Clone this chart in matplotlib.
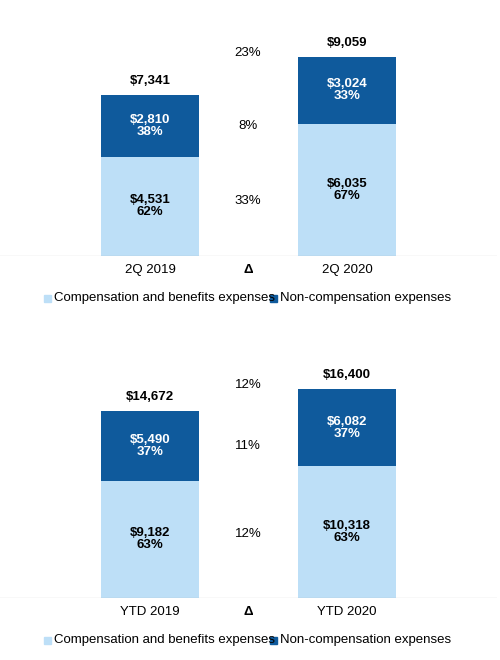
import matplotlib.pyplot as plt
from matplotlib.patches import Rectangle

plt.rcParams['font.family'] = ['Liberation Sans', 'DejaVu Sans']

LIGHT = '#BDDFF7'
DARK = '#0F5A9C'

panels = [
    {'labels': ['2Q 2019', '2Q 2020'],
     'comp': [4531, 6035], 'noncomp': [2810, 3024],
     'comp_pct': ['62%', '67%'], 'noncomp_pct': ['38%', '33%'],
     'deltas': ['33%', '8%', '23%'],
     'base_px': 256, 'px_per_unit': 161 / 7341},
    {'labels': ['YTD 2019', 'YTD 2020'],
     'comp': [9182, 10318], 'noncomp': [5490, 6082],
     'comp_pct': ['63%', '63%'], 'noncomp_pct': ['37%', '37%'],
     'deltas': ['12%', '11%', '12%'],
     'base_px': 598, 'px_per_unit': 187 / 14672},
]

W, H = 500, 660
fig = plt.figure(figsize=(W / 100, H / 100), dpi=100)

for p in panels:
    top_px = p['base_px'] - 230
    ax = fig.add_axes([0, (H - p['base_px']) / H, 497 / W, 230 / H])
    ymax = 230 / p['px_per_unit']
    ax.set_xlim(0, 497)
    ax.set_ylim(0, ymax)
    ax.axis('off')
    ax.axhline(0, color='#888888', lw=0.8)
    xs = [150, 347]
    ax.bar(xs, p['comp'], width=98, color=LIGHT)
    ax.bar(xs, p['noncomp'], width=98, bottom=p['comp'], color=DARK)
    for i, x in enumerate(xs):
        c, n = p['comp'][i], p['noncomp'][i]
        ax.text(x, c / 2, f"${c:,}\n{p['comp_pct'][i]}", ha='center', va='center',
                fontsize=9.5, fontweight='bold', color='black', linespacing=1.0)
        ax.text(x, c + n / 2, f"${n:,}\n{p['noncomp_pct'][i]}", ha='center', va='center',
                fontsize=9.5, fontweight='bold', color='white', linespacing=1.0)
        ax.text(x, c + n + 8 / p['px_per_unit'], f"${c + n:,}", ha='center', va='bottom',
                fontsize=9.5, fontweight='bold')
    # delta column
    c0, n0 = p['comp'][0], p['noncomp'][0]
    c1, n1 = p['comp'][1], p['noncomp'][1]
    ypos = [c0 / 2 + 0.05 * c0, c0 + n0 / 2, c1 + n1 + 4 / p['px_per_unit']]
    for y, d in zip(ypos, p['deltas']):
        ax.text(248, y, d, ha='center', va='center', fontsize=9.5)
    # x tick labels
    ty = -14 / p['px_per_unit']
    for x, lab in zip([150, 248, 347], [p['labels'][0], 'Δ', p['labels'][1]]):
        ax.text(x, ty, lab, ha='center', va='center', fontsize=9.5,
                fontweight='bold' if lab == 'Δ' else 'normal', clip_on=False)
    # legend
    ly = -42 / p['px_per_unit']
    s = 7 / p['px_per_unit']
    ax.add_patch(Rectangle((44, ly - s / 2), 7, s, color=LIGHT, clip_on=False))
    ax.text(54, ly, 'Compensation and benefits expenses', va='center', fontsize=9.5, clip_on=False)
    ax.add_patch(Rectangle((270, ly - s / 2), 7, s, color=DARK, clip_on=False))
    ax.text(280, ly, 'Non-compensation expenses', va='center', fontsize=9.5, clip_on=False)

fig.savefig('out.png', dpi=100)
